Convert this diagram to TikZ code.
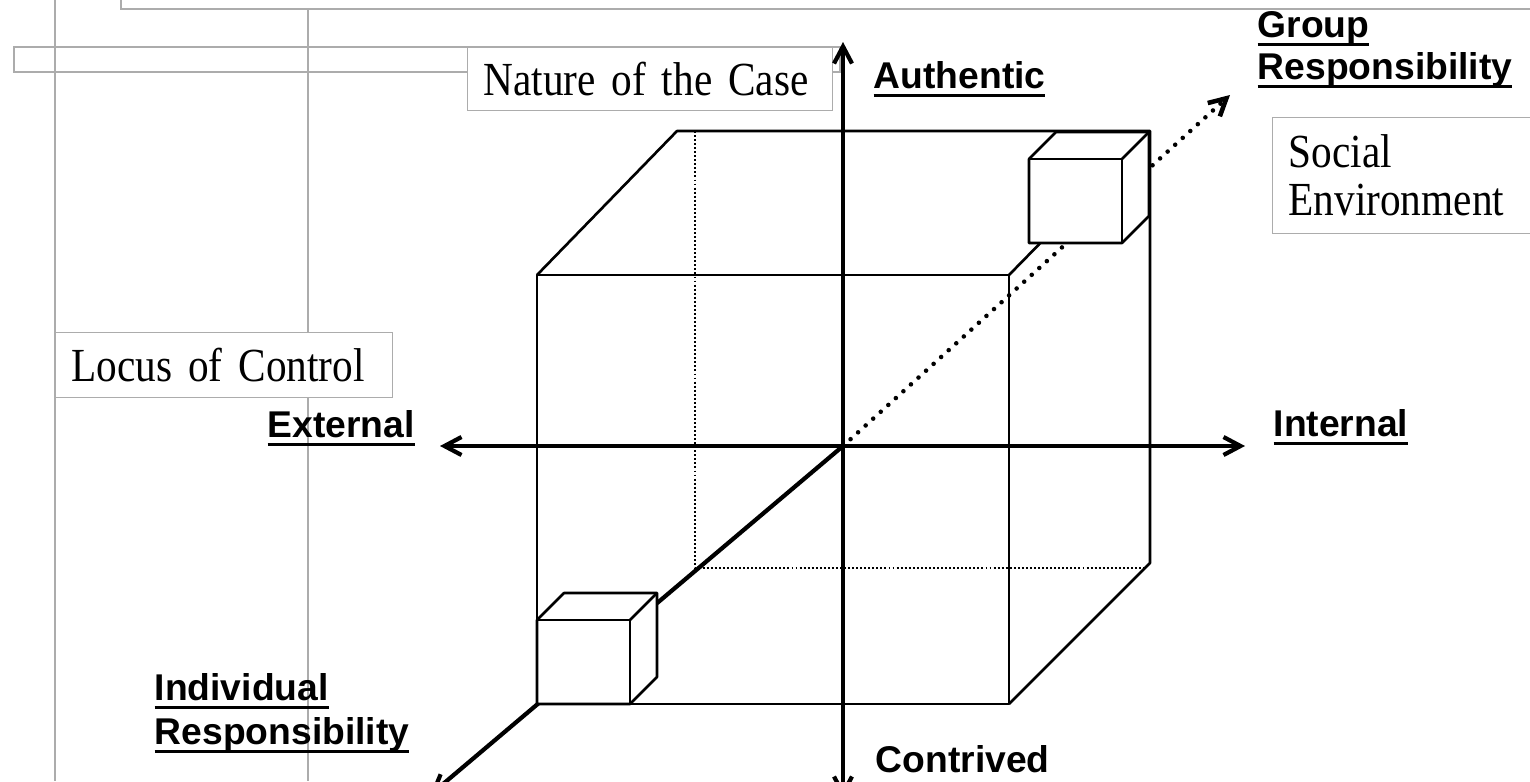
\documentclass[tikz,border=0pt]{standalone}
\usepackage{fontspec}
\setmainfont{Liberation Serif}
\newfontfamily\boxfont[FakeStretch=0.87]{Liberation Serif}
\newfontfamily\labfont{Liberation Sans}
\usetikzlibrary{arrows.meta}
\newcommand\axisul[1]{\setbox0\hbox{#1}\rlap{\rule[-2.5pt]{\wd0}{0.75pt}}\box0}
\newcommand\tightspace{\spaceskip=0.17em plus 0.05em\relax}

\begin{document}
\begin{tikzpicture}[
  guide/.style={gray!65, line width=0.35pt},
  cbox/.style={draw=gray!65, line width=0.35pt, fill=white, anchor=north west,
    font=\boxfont\fontsize{13.5pt}{13.7pt}\selectfont\tightspace, inner xsep=0.16cm, inner ysep=0pt},
  axlab/.style={font=\labfont\bfseries\fontsize{10.6pt}{12pt}\selectfont, inner sep=0pt, anchor=base west},
  edge3d/.style={line width=0.75pt, line join=round},
  hidden/.style={line width=0.55pt, dash pattern=on 0.55pt off 0.6pt},
  axis/.style={line width=1.2pt, -{Straight Barb[length=1.7mm,width=1.8mm]}},
  ]
\useasboundingbox (0,0) rectangle (15.3,7.81);
\clip (0,0) rectangle (15.3,7.81);
% layout guides of the page
\draw[guide] (1.21,7.72) rectangle (15.5,8.0);
\draw[guide] (0.14,7.09) rectangle (8.40,7.34);
\draw[guide] (0.55,7.81) -- (0.55,0);
\draw[guide] (3.08,7.72) -- (3.08,0);
\node[cbox, text width=3.33cm, minimum height=0.63cm] (nature) at (4.67,7.34) {Nature of the Case};
\node[cbox, text width=3.05cm, minimum height=0.65cm] (locus) at (0.55,4.49) {Locus of Control};
\node[cbox, text width=2.41cm, minimum height=1.16cm] (social) at (12.72,6.64) {Social\\Environment};
% big cube
\draw[edge3d] (5.37,0.77) rectangle (10.09,5.06);
\draw[edge3d] (5.37,5.06) -- (6.77,6.50) -- (11.50,6.50) -- (11.50,2.18) -- (10.09,0.77);
\draw[edge3d] (10.09,5.06) -- (11.50,6.50);
\draw[hidden] (6.95,6.50) -- (6.95,2.13) -- (11.45,2.13);
% axes
\coordinate (O) at (8.43,3.35);
\coordinate (auth) at (8.43,7.39);
\coordinate (contr) at (8.43,-0.17);
\coordinate (intl) at (12.45,3.35);
\coordinate (extl) at (4.40,3.35);
\coordinate (indiv) at (4.30,-0.14);
\coordinate (grp) at (12.30,6.86);
\foreach \e in {auth,contr,intl,extl,indiv} \draw[axis] (O) -- (\e);
\draw[axis, line width=1.3pt, dash pattern=on 0pt off 2.9pt, line cap=round] (O) -- (grp);
% small cubes
\foreach \cx/\cy in {10.29/5.38, 5.37/0.77} {
  \filldraw[edge3d, fill=white] (\cx,\cy) -- ++(0,0.84) -- ++(0.27,0.27) -- ++(0.93,0) -- ++(0,-0.84) -- ++(-0.27,-0.27) -- cycle;
  \draw[edge3d] (\cx,\cy+0.84) -- ++(0.93,0) -- ++(0,-0.84);
  \draw[edge3d] (\cx+0.93,\cy+0.84) -- ++(0.27,0.27);
}
% axis labels
\node[axlab] (authlab) at (8.73,6.93) {\axisul{Authentic}};
\node[axlab] (conlab) at (8.75,0.09) {Contrived};
\node[axlab] (extlab) at (2.67,3.44) {\axisul{External}};
\node[axlab] (intlab) at (12.73,3.45) {\axisul{Internal}};
\node[axlab] (grplab) at (12.57,7.44) {\axisul{Group}};
\node[axlab] (grplab2) at (12.57,7.02) {\axisul{Responsibility}};
\node[axlab] (indlab) at (1.54,0.81) {\axisul{Individual}};
\node[axlab] (indlab2) at (1.54,0.37) {\axisul{Responsibility}};
\end{tikzpicture}
\end{document}
